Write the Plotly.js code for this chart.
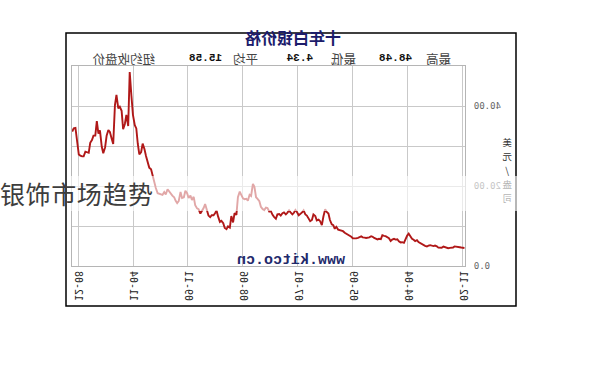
<!DOCTYPE html>
<html>
<head>
<meta charset="utf-8">
<script src="https://cdn.plot.ly/plotly-3.0.1.min.js"></script>
<style>
  html, body { margin:0; padding:0; background:#fff; }
  #wrap { position:relative; width:596px; height:372px; overflow:hidden; }
  #chart { position:absolute; left:0; top:0; width:596px; height:372px; transform:scaleX(-1); transform-origin:50% 50%; }
  #band { position:absolute; left:68px; top:176px; width:528px; height:35px; background:rgba(255,255,255,0.62); }
  #overlay { position:absolute; left:0px; top:176px; height:35px; line-height:35px; font-family:"Noto Sans CJK SC","Noto Sans",sans-serif; font-size:25px; color:#3d3d3d; letter-spacing:0.6px; white-space:nowrap; }
</style>
</head>
<body>
<div id="wrap">
  <div id="chart"></div>
  <div id="band"></div>
  <div id="overlay">银饰市场趋势</div>
</div>
<script>
// Silver price (USD/oz), sampled on the 1st and 15th of each month, Nov 2002 - Oct 2012
const firstYear = 2002, firstMonth = 11;
const price2002 = [4.50, 4.48, 4.62, 4.70];
const price2003 = [4.76, 4.86, 4.90, 4.62, 4.66, 4.53, 4.45, 4.58, 4.58, 4.85, 4.55, 4.52, 4.58, 4.90, 5.12, 4.98, 5.10, 5.20, 5.10, 4.88, 5.05, 5.25, 5.50, 5.62];
const price2004 = [5.97, 6.45, 6.20, 6.55, 6.80, 7.40, 8.10, 7.60, 6.40, 5.80, 5.95, 5.90, 6.20, 6.70, 6.60, 6.80, 6.60, 6.25, 6.95, 7.25, 7.45, 7.55, 7.70, 6.70];
const price2005 = [6.80, 6.65, 6.75, 7.00, 7.30, 7.45, 7.15, 7.05, 7.00, 7.10, 7.15, 7.40, 7.15, 7.05, 6.90, 6.85, 6.95, 7.30, 7.55, 7.70, 7.90, 8.30, 8.70, 8.80];
const price2006 = [9.00, 9.10, 9.80, 9.30, 10.20, 10.40, 11.50, 13.10, 13.50, 14.20, 12.30, 10.20, 11.20, 11.60, 11.40, 12.50, 12.90, 11.50, 11.20, 11.90, 12.60, 12.90, 13.90, 13.40];
const price2007 = [12.90, 12.70, 13.50, 14.00, 13.30, 12.90, 13.40, 13.90, 13.30, 12.90, 13.40, 13.20, 12.60, 13.00, 12.90, 11.80, 12.30, 12.80, 13.70, 13.60, 14.50, 14.60, 14.00, 14.20];
const price2008 = [14.80, 16.20, 16.80, 17.20, 19.80, 20.50, 17.50, 17.80, 16.30, 16.80, 16.70, 16.90, 17.80, 18.60, 17.20, 12.80, 13.20, 10.90, 12.50, 9.60, 9.90, 9.20, 9.50, 10.70];
const price2009 = [11.30, 11.00, 12.40, 13.90, 13.20, 12.70, 12.70, 12.20, 12.60, 14.00, 15.50, 14.50, 13.60, 13.10, 14.20, 14.40, 15.20, 17.30, 16.50, 17.60, 17.00, 18.20, 18.80, 17.20];
const price2010 = [17.00, 18.50, 16.20, 15.70, 16.30, 17.20, 17.60, 18.20, 18.60, 19.20, 17.90, 18.50, 17.80, 17.90, 18.10, 18.20, 19.50, 20.90, 22.10, 24.20, 24.60, 25.80, 27.50, 29.20];
const price2011 = [30.60, 28.50, 27.90, 30.50, 34.40, 35.20, 37.80, 42.50, 48.48, 35.00, 37.80, 35.50, 34.20, 38.80, 39.80, 39.40, 42.80, 40.20, 30.50, 31.80, 33.50, 34.00, 32.60, 29.70];
const price2012 = [28.20, 29.80, 33.90, 33.10, 36.20, 32.60, 32.60, 31.50, 30.80, 28.30, 28.50, 28.60, 27.40, 27.40, 27.60, 27.90, 31.50, 34.50, 34.40, 33.60];

const tickDates  = ['2002-11-15','2004-04-08','2005-08-31','2007-01-23','2008-06-15','2009-11-07','2011-03-31','2012-08-22'];
const tickLabels = ['02-11','04-04','05-09','07-01','08-06','09-11','11-04','12-08'];
const yTickVals  = [0, 10, 20, 30, 40, 50];
const yTickText  = ['0.0', '', '20.00', '', '40.00', ''];
const headerLabels = ['最高', '48.48', '最低', '4.34', '平均', '15.58', '纽约收盘价'];
const unitChars = ['美', '元', '/', '盎', '司'];

const prices = [].concat(price2002, price2003, price2004, price2005, price2006, price2007,
                         price2008, price2009, price2010, price2011, price2012);
const dates = prices.map(function(_, i) {
  const m0 = (firstMonth - 1) + Math.floor(i / 2);
  const y = firstYear + Math.floor(m0 / 12);
  const m = (m0 % 12) + 1;
  return y + '-' + (m < 10 ? '0' + m : m) + '-' + (i % 2 === 0 ? '01' : '15');
});

// plot area in pixels (unmirrored drawing)
const L = 131, R = 524, T = 66, B = 266;
function px(x) { return (x - L) / (R - L); }
function py(y) { return (B - y) / (B - T); }

const headerX = [157, 200, 253, 296, 350, 390, 472];
const annotations = headerLabels.map(function(t, i) {
  const isNum = i % 2 === 1 && i < 6;
  return {
    text: isNum ? '<b>' + t + '</b>' : t,
    x: px(headerX[i]), y: py(58.5), xref: 'paper', yref: 'paper',
    xanchor: 'center', yanchor: 'middle', showarrow: false, borderpad: 0,
    font: isNum ? {family: 'Liberation Mono, DejaVu Sans Mono, monospace', size: 11, color: '#111'}
                : {family: 'Noto Sans CJK SC, sans-serif', size: 12.5, color: '#444'}
  };
});
annotations.push({
  text: '<b>www.kitco.cn</b>', x: px(305), y: py(260), xref: 'paper', yref: 'paper',
  xanchor: 'center', yanchor: 'middle', showarrow: false,
  font: {family: 'Liberation Mono, DejaVu Sans Mono, monospace', size: 15, color: '#1f2a6b'}
});
const unitY = [142, 156, 170, 184, 198];
unitChars.forEach(function(c, i) {
  annotations.push({
    text: c, x: px(89), y: py(unitY[i]), xref: 'paper', yref: 'paper',
    xanchor: 'center', yanchor: 'middle', showarrow: false, borderpad: 0,
    font: {family: 'Noto Sans CJK SC, sans-serif', size: 9.5, color: '#333'}
  });
});

const trace = {
  x: dates, y: prices, type: 'scatter', mode: 'lines',
  line: {color: '#b01818', width: 1.9},
  hoverinfo: 'skip'
};

const layout = {
  width: 596, height: 372,
  margin: {l: L, r: 596 - R, t: T, b: 372 - B, pad: 0},
  paper_bgcolor: '#fff', plot_bgcolor: '#fff',
  showlegend: false,
  title: {
    text: '<b>十年白银价格</b>', xref: 'container', yref: 'container',
    x: 303 / 596, xanchor: 'center', y: 1 - 38 / 372, yanchor: 'middle',
    font: {family: 'Noto Sans CJK SC, sans-serif', size: 16, color: '#1c1c6b'}
  },
  xaxis: {
    type: 'date', range: ['2002-10-27', '2012-10-17'],
    tickmode: 'array', tickvals: tickDates, ticktext: tickLabels,
    tickangle: -90, ticks: '',
    tickfont: {family: 'DejaVu Sans Mono, monospace', size: 10, color: '#222'},
    showgrid: true, gridcolor: '#c9c9c9', gridwidth: 1,
    showline: true, mirror: true, linecolor: '#b5b5b5', linewidth: 1,
    zeroline: false, fixedrange: true
  },
  yaxis: {
    range: [0, 50], tickmode: 'array', tickvals: yTickVals, ticktext: yTickText,
    ticks: '', ticklabelstandoff: 6,
    tickfont: {family: 'DejaVu Sans Mono, monospace', size: 9, color: '#666'},
    showgrid: true, gridcolor: '#c9c9c9', gridwidth: 1,
    showline: true, mirror: true, linecolor: '#b5b5b5', linewidth: 1,
    zeroline: false, fixedrange: true
  },
  shapes: [{
    type: 'rect', xref: 'paper', yref: 'paper',
    x0: px(80), x1: px(530), y0: py(306), y1: py(33),
    line: {color: '#000', width: 1.5}, fillcolor: 'rgba(0,0,0,0)', layer: 'below'
  }],
  annotations: annotations
};

Plotly.newPlot('chart', [trace], layout, {staticPlot: true, displayModeBar: false});
</script>
</body>
</html>
